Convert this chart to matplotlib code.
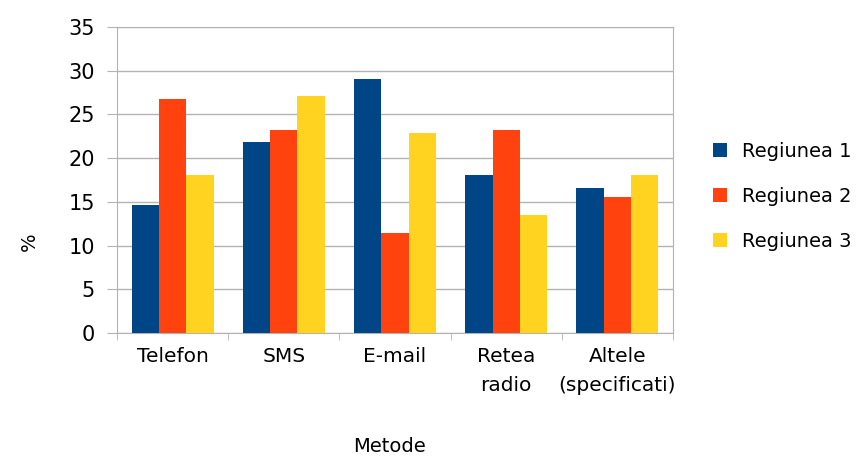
import matplotlib.pyplot as plt
import numpy as np

categories = ['Telefon', 'SMS', 'E-mail', 'Retea\nradio', 'Altele\n(specificati)']
series_names = ['Regiunea 1', 'Regiunea 2', 'Regiunea 3']
reg_1 = [14.7, 21.9, 29.0, 18.1, 16.6]
reg_2 = [26.8, 23.2, 11.5, 23.2, 15.6]
reg_3 = [18.1, 27.1, 22.9, 13.5, 18.1]
colors = ['#004586', '#ff420e', '#ffd320']

fig = plt.figure(figsize=(8.64, 4.62), dpi=100)
ax = fig.add_axes([0.1354, 0.279, 0.6436, 0.6626])

x = np.arange(len(categories))
width = 0.246
for i, (vals, name) in enumerate(zip([reg_1, reg_2, reg_3], series_names)):
    ax.bar(x + (i - 1) * width, vals, width, color=colors[i], label=name, zorder=3)

ax.set_xlim(-0.5, len(categories) - 0.5)
ax.set_ylim(0, 35)
ax.set_yticks(np.arange(0, 36, 5))
ax.yaxis.grid(True, color='#b3b3b3', linewidth=1, zorder=0)

ax.set_xticks(x)
ax.set_xticklabels(categories, fontsize=14.5, linespacing=1.7)
ax.set_xticks(np.arange(-0.5, len(categories)), minor=True)
ax.tick_params(axis='x', which='major', length=0, pad=10)
ax.tick_params(axis='x', which='minor', length=5, color='#b3b3b3', direction='out')
ax.tick_params(axis='y', labelsize=15, length=7, color='#b3b3b3', pad=9)

for s in ax.spines.values():
    s.set_color('#b3b3b3')

ax.set_ylabel('%', fontsize=14)
ax.yaxis.set_label_coords(-0.14, 0.30)
ax.set_xlabel('Metode', fontsize=14)
ax.xaxis.set_label_coords(0.49, -0.34)

fig.legend(loc='center left', bbox_to_anchor=(0.805, 0.575), frameon=False,
           fontsize=14, handlelength=0.7, handleheight=0.7,
           handletextpad=0.8, labelspacing=1.35)

fig.savefig('out.png', dpi=100)
